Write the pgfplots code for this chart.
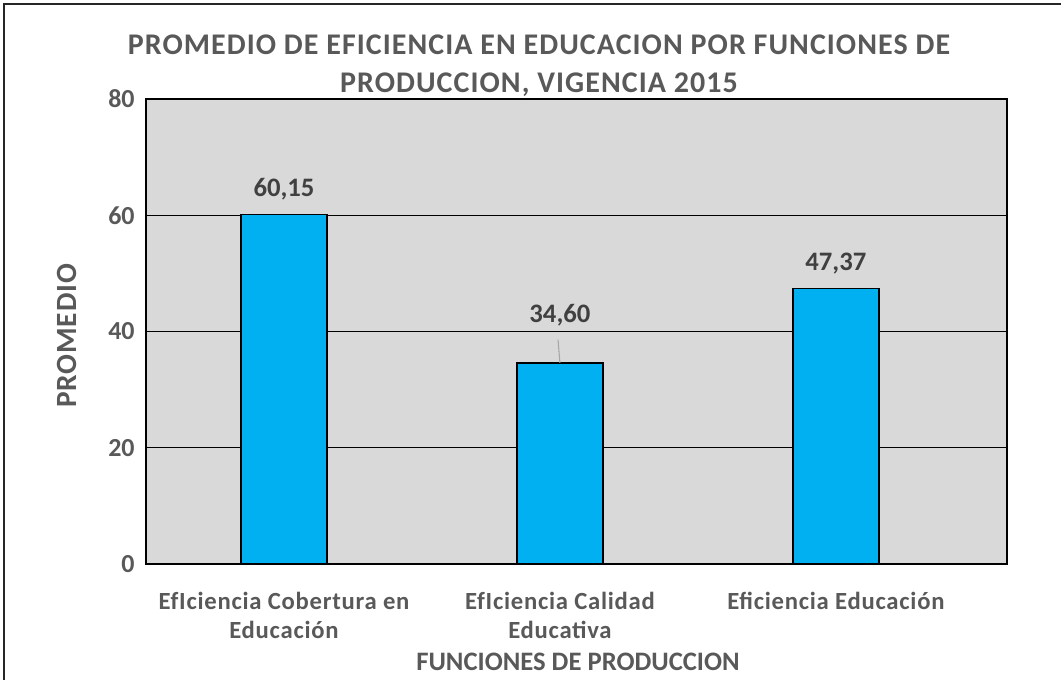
\documentclass[border=0pt]{standalone}
\usepackage{fontspec}
\setmainfont{Carlito}
\usepackage{pgfplots}
\pgfplotsset{compat=1.18}
\definecolor{txt}{HTML}{595959}
\definecolor{lbl}{HTML}{404040}
\definecolor{bg}{HTML}{D9D9D9}
\definecolor{barc}{HTML}{00B0F0}
\begin{document}
\begin{tikzpicture}[x=0.75pt,y=0.75pt]
\useasboundingbox (0,0) rectangle (1061,679);
\draw[black!85, line width=1.5pt] (4,-10) -- (4,675) -- (1070,675);
\begin{axis}[
  at={(109.5pt,86.25pt)}, anchor=south west,
  scale only axis, width=645.75pt, height=348.75pt,
  xmin=-0.5, xmax=2.62, ymin=0, ymax=80,
  ytick={0,20,40,60,80},
  xtick={0,1,2},
  xticklabels={{EfIciencia Cobertura en\\Educación},{EfIciencia Calidad\\Educativa},{Eficiencia Educación}},
  major tick length=0pt,
  ymajorgrids, grid style={black, line width=1.1pt},
  axis line style={black, line width=1.1pt},
  axis background/.style={fill=bg},
  /pgf/number format/assume math mode=true,
  yticklabel style={font=\fontsize{19.5}{22}\selectfont\bfseries, text=txt, xshift=-5pt},
  xticklabel style={font=\fontsize{18.5}{21.75}\selectfont\bfseries\addfontfeature{LetterSpace=3}, text=txt, align=center, anchor=north, yshift=-17.5pt},
]
\addplot[ybar, bar width=64.5pt, bar shift=0pt, fill=barc, draw=black, line width=1.1pt,
  nodes near coords={\pgfmathprintnumber[fixed,fixed zerofill,precision=2,use comma,assume math mode=true]{\pgfplotspointmeta}},
  nodes near coords style={font=\fontsize{20}{24}\selectfont\bfseries, text=lbl, anchor=south, yshift=7pt}]
  coordinates {(0,60.15) (2,47.37)};
\addplot[ybar, bar width=64.5pt, bar shift=0pt, fill=barc, draw=black, line width=1.1pt,
  nodes near coords={\pgfmathprintnumber[fixed,fixed zerofill,precision=2,use comma,assume math mode=true]{\pgfplotspointmeta}},
  nodes near coords style={font=\fontsize{20}{24}\selectfont\bfseries, text=lbl, anchor=south, yshift=24pt}]
  coordinates {(1,34.60)};
\draw[gray!70, line width=0.8pt] (axis cs:0.993,38.6) -- (axis cs:1.0,34.6);
\end{axis}
\node[font=\fontsize{22.5}{28.5}\selectfont\bfseries\addfontfeature{LetterSpace=3.5}, text=txt, align=center] at (539,679-66) {PROMEDIO DE EFICIENCIA EN EDUCACION POR FUNCIONES DE\\PRODUCCION, VIGENCIA 2015};
\node[font=\fontsize{20}{24}\selectfont\bfseries, text=txt] at (578,679-662) {FUNCIONES DE PRODUCCION};
\node[font=\fontsize{22}{24}\selectfont\bfseries\addfontfeature{LetterSpace=3}, text=txt, rotate=90] at (67,679-336) {PROMEDIO};
\end{tikzpicture}
\end{document}
